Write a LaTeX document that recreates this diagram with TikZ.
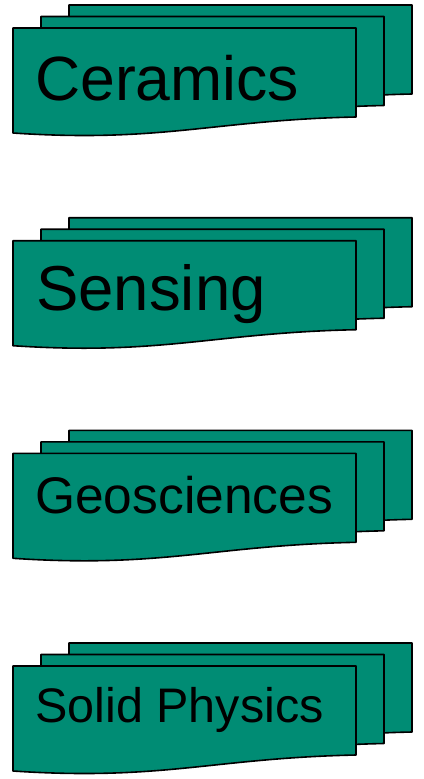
\documentclass[tikz,border=0pt]{standalone}
\usepackage{fontspec}
\setmainfont{Liberation Sans}
\usepackage{xcolor}
\definecolor{sheetgreen}{HTML}{008C74}
\tikzset{
  sheet/.style={draw=black, line width=1.6pt, fill=sheetgreen, line join=round},
  heading/.style={anchor=base west, inner sep=0pt, text=black},
  pics/docstack/.style={code={
    \foreach \dx/\dy in {56/0, 28/11.5, 0/23}
      \draw[sheet, shift={(\dx,\dy)}] (0,0) -- (343,0) -- (343,89)
        .. controls (200,92) and (150,115) .. (0,105) -- cycle;
  }}
}
\begin{document}
\begin{tikzpicture}[x=1pt, y=-1pt]
  \useasboundingbox (0,0) rectangle (423,779);

  \pic at (13,5) {docstack};
  \node[heading, font=\fontsize{62.5}{68}\selectfont] (ceramics) at (35,100) {Ceramics};

  \pic at (13,217.7) {docstack};
  \node[heading, font=\fontsize{63.5}{69}\selectfont] (sensing) at (36,310) {Sensing};

  \pic at (13,430.3) {docstack};
  \node[heading, font=\fontsize{51.5}{57}\selectfont] (geosciences) at (35,513) {Geosciences};

  \pic at (13,643) {docstack};
  \node[heading, font=\fontsize{48.5}{54}\selectfont] (solidphysics) at (35,722) {Solid Physics};
\end{tikzpicture}
\end{document}
